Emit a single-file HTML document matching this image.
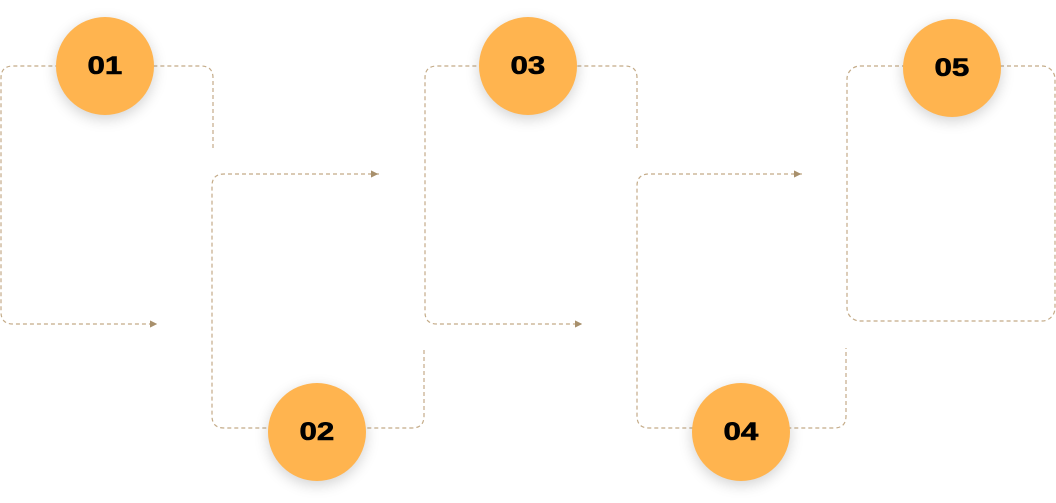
<!DOCTYPE html>
<html><head><style>
body{margin:0;background:#fff;width:1056px;height:503px;overflow:hidden;font-family:"Liberation Sans",sans-serif}
.c{position:absolute;width:98px;height:98px;border-radius:50%;background:#ffb44f;box-shadow:0 4px 14px rgba(0,0,0,.18);display:flex;align-items:center;justify-content:center;color:#000}
.c span{display:inline-block;font-weight:900;font-size:25px;transform:scaleX(1.25);-webkit-text-stroke:0.6px #000}
</style></head><body>
<svg width="1056" height="503" style="position:absolute;left:0;top:0">
<defs><marker id="a" markerWidth="6" markerHeight="6" refX="5" refY="3" orient="auto"><path d="M0,0L6,3L0,6z" fill="#a8906c"/></marker></defs>
<g fill="none" stroke="#c4ab88" stroke-width="1.2" stroke-dasharray="4,3">
<path d="M213,148 V78 Q213,66 201,66 H13 Q1,66 1,78 V312 Q1,324 13,324 H156" marker-end="url(#a)"/>
<path d="M379,174 H224 Q212,174 212,186 V416 Q212,428 224,428 H412 Q424,428 424,416 V350"/>
<path d="M370,174 H377" marker-end="url(#a)"/>
<path d="M637,148 V78 Q637,66 625,66 H437 Q425,66 425,78 V312 Q425,324 437,324 H581" marker-end="url(#a)"/>
<path d="M802,174 H649 Q637,174 637,186 V416 Q637,428 649,428 H834 Q846,428 846,416 V348"/>
<path d="M793,174 H800" marker-end="url(#a)"/>
<rect x="847" y="66" width="208" height="255" rx="13"/>
</g>
</svg>
<div class="c" style="left:56px;top:17px"><span>01</span></div>
<div class="c" style="left:268px;top:383px"><span>02</span></div>
<div class="c" style="left:479px;top:17px"><span>03</span></div>
<div class="c" style="left:692px;top:383px"><span>04</span></div>
<div class="c" style="left:903px;top:19px"><span>05</span></div>
</body></html>
